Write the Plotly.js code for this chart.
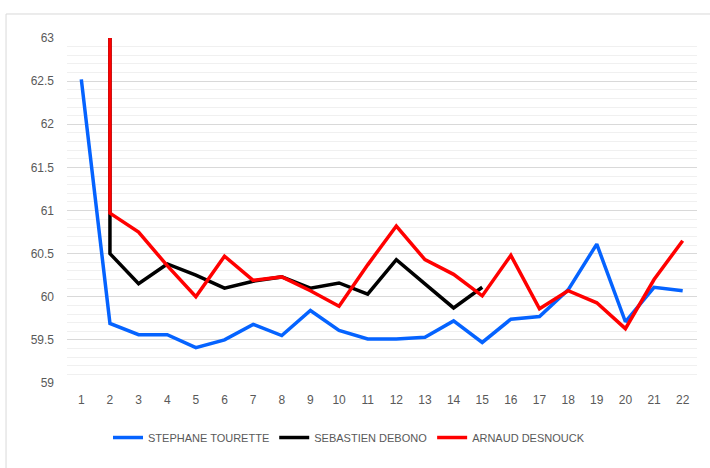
<!DOCTYPE html>
<html><head><meta charset="utf-8">
<script src="https://cdn.plot.ly/plotly-3.0.1.min.js"></script>
<style>html,body{margin:0;padding:0;background:#fff}#c{width:710px;height:468px}</style>
</head><body><div id="c"></div>
<script>
const laps = [1,2,3,4,5,6,7,8,9,10,11,12,13,14,15,16,17,18,19,20,21,22];
const tourette = [62.52,59.69,59.56,59.56,59.41,59.50,59.68,59.55,59.84,59.61,59.51,59.51,59.53,59.72,59.47,59.74,59.77,60.08,60.61,59.71,60.11,60.07];
const debonoLaps = [2,2,3,4,5,6,7,8,9,10,11,12,13,14,15];
const debono = [66.0,60.50,60.15,60.38,60.25,60.10,60.18,60.23,60.10,60.16,60.03,60.43,60.15,59.87,60.11];
const desnouckLaps = [2,2,3,4,5,6,7,8,9,10,11,12,13,14,15,16,17,18,19,20,21,22];
const desnouck = [66.0,60.97,60.75,60.36,60.00,60.47,60.19,60.23,60.07,59.89,60.37,60.82,60.43,60.26,60.01,60.48,59.86,60.07,59.93,59.63,60.20,60.65];
const names = ["STEPHANE TOURETTE","SEBASTIEN DEBONO","ARNAUD DESNOUCK"];
const yTicks = [59,59.5,60,60.5,61,61.5,62,62.5,63];

const fam = '"Liberation Sans Narrow","Arial Narrow","Liberation Sans",sans-serif';
const font = {family:fam, size:12, color:'#595959'};
const legFont = {family:fam, size:11, color:'#595959'};
const traces = [
  {x:laps, y:tourette, name:names[0], mode:'lines', line:{color:'#0563FF', width:3.5}},
  {x:debonoLaps, y:debono, name:names[1], mode:'lines', line:{color:'#000000', width:3.5}},
  {x:desnouckLaps, y:desnouck, name:names[2], mode:'lines', line:{color:'#FF0000', width:3.5}}
];
const layout = {
  width:710, height:468,
  margin:{l:67, r:13, t:38, b:85},
  paper_bgcolor:'#fff', plot_bgcolor:'#fff',
  font:font,
  showlegend:true,
  legend:{orientation:'h', x:0.4476, xanchor:'center', y:-0.116, yanchor:'top', font:legFont, tracegroupgap:0},
  xaxis:{range:[0.5,22.5], tickvals:laps, ticktext:laps.map(String), showgrid:false, zeroline:false, showline:false, ticks:'', tickfont:font, ticklabelstandoff:8},
  yaxis:{range:[59,63], tickvals:yTicks, ticktext:yTicks.map(String), showgrid:true, gridcolor:'#d9d9d9', gridwidth:1, zeroline:false, showline:false, ticks:'', tickfont:font, ticklabelstandoff:12,
    minor:{dtick:0.1, showgrid:true, gridcolor:'#f0f0f0', gridwidth:1, ticks:''}},
  shapes:[{type:'rect', xref:'paper', yref:'paper', x0:-0.0968, x1:1.03, y0:-0.26, y1:1.0696, line:{color:'#d9d9d9', width:1}, fillcolor:'rgba(0,0,0,0)', layer:'below'}]
};
Plotly.newPlot('c', traces, layout, {displayModeBar:false, staticPlot:true});
</script></body></html>
